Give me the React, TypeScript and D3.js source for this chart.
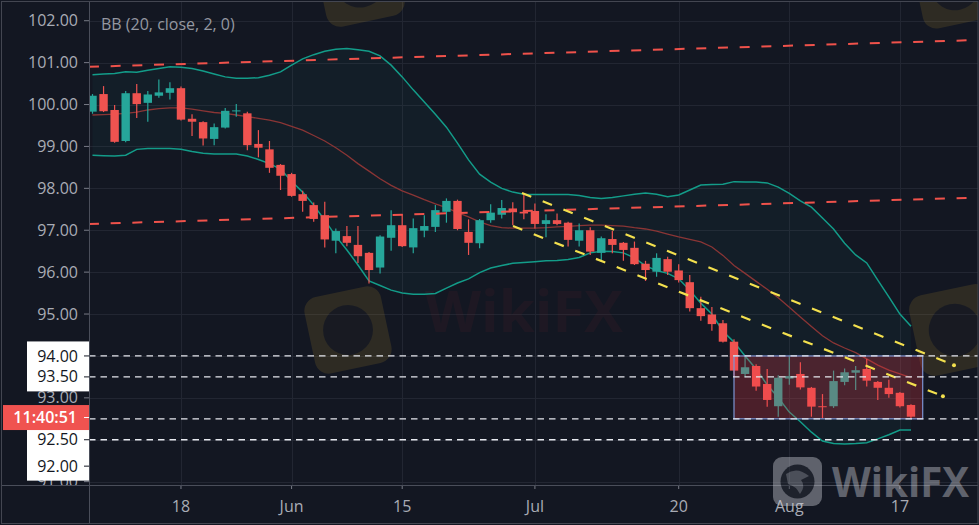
import * as d3 from 'd3';

const WIDTH = 979;
const HEIGHT = 525;
const LEFT = 89;
const RIGHT = 978;
const TOP = 2;
const BOTTOM = 485;

// trading days, 2020
const dates = [
  '05-06', '05-07', '05-08', '05-11', '05-12', '05-13', '05-14', '05-15',
  '05-18', '05-19', '05-20', '05-21', '05-22', '05-25', '05-26', '05-27', '05-28', '05-29',
  '06-01', '06-02', '06-03', '06-04', '06-05', '06-08', '06-09', '06-10', '06-11', '06-12',
  '06-15', '06-16', '06-17', '06-18', '06-19', '06-22', '06-23', '06-24', '06-25', '06-26', '06-29', '06-30',
  '07-01', '07-02', '07-03', '07-06', '07-07', '07-08', '07-09', '07-10', '07-13', '07-14', '07-15', '07-16', '07-17',
  '07-20', '07-21', '07-22', '07-23', '07-24', '07-27', '07-28', '07-29', '07-30', '07-31',
  '08-03', '08-04', '08-05', '08-06', '08-07', '08-10', '08-11', '08-12', '08-13', '08-14', '08-17', '08-18',
];

const opens = [
  99.83, 100.25, 99.87, 99.13, 100.27, 100.04, 100.21, 100.28, 100.39, 99.66,
  99.58, 99.18, 99.45, 99.84, 99.79, 99.06, 98.93, 98.56, 98.34, 97.86,
  97.6, 97.36, 96.75, 96.86, 96.65, 96.46, 96.11, 96.82, 97.12, 96.59,
  96.99, 97.08, 97.44, 97.7, 96.96, 96.69, 97.24, 97.37, 97.52, 97.44,
  97.46, 97.15, 97.24, 97.18, 96.75, 97.0, 96.46, 96.79, 96.7, 96.58,
  96.2, 96.01, 96.31, 96.04, 95.76, 95.14, 94.99, 94.78, 94.34, 93.57,
  93.76, 93.33, 92.8, 93.46, 93.57, 93.24, 92.8, 92.8, 93.38, 93.6,
  93.69, 93.38, 93.24, 93.12, 92.83,
];
const highs = [
  100.25, 100.44, 99.99, 100.32, 100.49, 100.32, 100.6, 100.53, 100.43, 99.77,
  99.6, 99.55, 99.92, 100.01, 99.83, 99.39, 99.13, 98.58, 98.37, 97.94,
  97.66, 97.68, 97.04, 97.1, 97.1, 96.48, 96.88, 97.48, 97.39, 97.28,
  97.36, 97.6, 97.76, 97.73, 97.26, 97.27, 97.62, 97.72, 97.67, 97.88,
  97.64, 97.38, 97.4, 97.2, 97.16, 97.07, 96.85, 96.99, 96.72, 96.73,
  96.27, 96.45, 96.37, 96.19, 95.93, 95.41, 95.17, 94.86, 94.4, 94.0,
  93.8, 93.69, 93.54, 94.01, 93.85, 93.26, 93.09, 93.65, 93.7, 93.76,
  93.93, 93.4, 93.43, 93.14, 92.85,
];
const lows = [
  99.78, 99.82, 99.09, 99.1, 99.68, 99.59, 100.16, 100.12, 99.62, 99.25,
  99.02, 99.03, 99.43, 99.71, 98.91, 98.74, 98.37, 97.96, 97.8, 97.44,
  97.2, 96.59, 96.45, 96.62, 96.22, 95.73, 95.97, 96.51, 96.6, 96.45,
  96.83, 96.96, 97.18, 97.0, 96.41, 96.57, 97.18, 97.28, 97.12, 97.26,
  97.04, 96.83, 97.12, 96.61, 96.61, 96.41, 96.29, 96.45, 96.27, 96.17,
  95.79, 95.89, 95.93, 95.75, 95.06, 94.84, 94.6, 94.32, 93.5, 93.49,
  93.17, 92.79, 92.55, 93.31, 93.2, 92.55, 92.51, 92.76, 93.3, 93.19,
  93.27, 92.95, 93.0, 92.77, 92.5,
];
const closes = [
  100.21, 99.84, 99.11, 100.27, 100.01, 100.24, 100.29, 100.39, 99.64, 99.59,
  99.19, 99.46, 99.85, 99.86, 99.03, 98.97, 98.49, 98.3, 97.82, 97.7,
  97.27, 96.78, 96.98, 96.7, 96.38, 96.05, 96.85, 97.12, 96.62, 97.05,
  97.1, 97.48, 97.7, 97.03, 96.7, 97.24, 97.42, 97.53, 97.43, 97.4,
  97.15, 97.24, 97.15, 96.77, 97.0, 96.49, 96.81, 96.65, 96.53, 96.19,
  96.05, 96.34, 96.01, 95.81, 95.14, 94.95, 94.76, 94.34, 93.65, 93.73,
  93.27, 92.95, 93.48, 93.52, 93.25, 92.79, 92.78, 93.4, 93.61, 93.66,
  93.41, 93.24, 93.09, 92.8, 92.55,
];

// BB (20, close, 2, 0)
const bbUpper = [
  100.71, 100.73, 100.74, 100.78, 100.77, 100.82, 100.86, 100.9, 100.89, 100.86,
  100.8, 100.73, 100.66, 100.63, 100.63, 100.64, 100.7, 100.78, 100.94, 101.09,
  101.19, 101.27, 101.32, 101.34, 101.31, 101.27, 101.16, 100.94, 100.66, 100.35,
  100.06, 99.77, 99.46, 99.08, 98.68, 98.34, 98.15, 98.0, 97.91, 97.86,
  97.85, 97.85, 97.85, 97.85, 97.83, 97.78, 97.76, 97.78, 97.82, 97.86,
  97.89, 97.86, 97.8, 97.84, 97.96, 98.08, 98.09, 98.1, 98.16, 98.15,
  98.15, 98.13, 98.03, 97.88, 97.7, 97.55, 97.29, 97.03, 96.69, 96.41,
  96.22, 95.81, 95.41, 95.0, 94.71,
];
const bbBasis = [
  99.75, 99.76, 99.77, 99.79, 99.82, 99.87, 99.9, 99.92, 99.92, 99.89,
  99.85, 99.81, 99.79, 99.75, 99.71, 99.67, 99.63, 99.57, 99.48, 99.39,
  99.26, 99.13, 98.97, 98.79, 98.59, 98.41, 98.23, 98.07, 97.94, 97.84,
  97.73, 97.63, 97.54, 97.42, 97.32, 97.2, 97.11, 97.06, 97.05, 97.05,
  97.05, 97.06, 97.08, 97.09, 97.11, 97.12, 97.12, 97.11, 97.1, 97.06,
  97.03, 96.98, 96.91, 96.84, 96.78, 96.72, 96.6, 96.4, 96.16, 95.97,
  95.78, 95.59, 95.39, 95.16, 94.93, 94.7, 94.48, 94.31, 94.19, 94.08,
  93.93, 93.78, 93.66, 93.57, 93.48,
];
const bbLower = [
  98.79, 98.78, 98.77, 98.79, 98.93, 98.95, 98.95, 98.95, 98.93, 98.88,
  98.84, 98.82, 98.82, 98.82, 98.77, 98.69, 98.59, 98.46, 98.17, 97.91,
  97.6, 97.24, 96.86, 96.53, 96.17, 95.79, 95.68, 95.57, 95.5, 95.47,
  95.47, 95.49, 95.62, 95.74, 95.84, 95.99, 96.1, 96.16, 96.21, 96.23,
  96.25, 96.27, 96.28, 96.3, 96.35, 96.46, 96.5, 96.49, 96.46, 96.34,
  96.15, 96.04, 95.97, 95.84, 95.57, 95.26, 95.0, 94.59, 94.33, 94.0,
  93.69, 93.31, 93.0, 92.66, 92.43, 92.18, 91.97, 91.91, 91.9, 91.91,
  91.93, 92.02, 92.12, 92.23, 92.23,
];

const priceTicks = [91, 92, 93, 94, 95, 96, 97, 98, 99, 100, 101, 102];
const timeTicks: [string, string][] = [
  ['05-18', '18'], ['06-01', 'Jun'], ['06-15', '15'], ['07-01', 'Jul'],
  ['07-20', '20'], ['08-03', 'Aug'], ['08-17', '17'],
];

// drawings: [bar index, price] end points
const redTrendLines: [number, number][][] = [
  [[-0.32, 100.9], [80.06, 101.54]],
  [[-0.32, 97.15], [80.06, 97.78]],
];
const yellowTrendLines: [number, number][][] = [
  [[38.83, 97.89], [77.89, 93.78]],
  [[38.02, 97.1], [76.89, 93.04]],
];
const levelPrices = [94, 93.5, 92.5, 92];
const levelLabels: [number, string][] = [
  [94, '94.00'], [93.5, '93.50'], [92, '92.50'], [91.37, '92.00'],
];
const lastLabel: [number, string] = [92.53, '11:40:51'];
const rangeBox = { from: 58.0, to: 75.06, top: 94.0, bottom: 92.5 };

const FONT = '"Open Sans", "DejaVu Sans", sans-serif';

function Watermark({ cx, cy, size, angle }: { cx: number; cy: number; size: number; angle: number }) {
  return (
    <g transform={`translate(${cx},${cy}) rotate(${angle})`} opacity={0.13}>
      <rect x={-size / 2} y={-size / 2} width={size} height={size} rx={size * 0.18} fill="#e0b030" />
      <circle r={size * 0.32} fill="#131722" opacity={0.8} />
    </g>
  );
}

export default function App() {
  const x = d3.scaleLinear().domain([-0.316, 80.06]).range([LEFT, RIGHT]);
  const y = d3.scaleLinear().domain([90.92, 102.447]).range([BOTTOM, TOP]);

  const bandLine = d3.line<number>().x((_, i) => x(i)).y(d => y(d));
  const bandArea = d3.area<number>()
    .x((_, i) => x(i))
    .y0((_, i) => y(bbLower[i]))
    .y1(d => y(d));

  const bodyW = 8.4;
  const tickX = timeTicks.map(([d, label]) => ({ pos: x(dates.indexOf(d)), label }));

  return (
    <svg
      width={WIDTH}
      height={HEIGHT}
      style={{ position: 'absolute', left: 0, top: 0, background: '#131722' }}
      fontFamily={FONT}
    >
      <defs>
        <clipPath id="plot">
          <rect x={LEFT} y={TOP} width={RIGHT - LEFT} height={BOTTOM - TOP} />
        </clipPath>
        <clipPath id="yaxis">
          <rect x={0} y={0} width={LEFT} height={BOTTOM} />
        </clipPath>
      </defs>
      <rect width={WIDTH} height={HEIGHT} fill="#131722" />

      {/* grid */}
      <g stroke="#222632" strokeWidth={1}>
        {priceTicks.map(p => (
          <line key={p} x1={LEFT} x2={RIGHT} y1={Math.round(y(p)) + 0.5} y2={Math.round(y(p)) + 0.5} />
        ))}
        {tickX.map(t => (
          <line key={t.label} x1={Math.round(t.pos) + 0.5} x2={Math.round(t.pos) + 0.5} y1={TOP} y2={BOTTOM} />
        ))}
      </g>

      <g clipPath="url(#plot)">
        {/* faint watermarks */}
        <Watermark cx={348} cy={330} size={78} angle={-12} />
        <Watermark cx={955} cy={330} size={82} angle={-12} />
        <Watermark cx={360} cy={-18} size={80} angle={-12} />
        <Watermark cx={955} cy={-14} size={76} angle={-12} />
        <text x={425} y={332} fontSize={58} fontWeight={700} fill="#8a2a30" opacity={0.09}>WikiFX</text>

        {/* Bollinger bands */}
        <path d={bandArea(bbUpper) ?? ''} fill="#26a69a" opacity={0.055} />
        <path d={bandLine(bbBasis) ?? ''} fill="none" stroke="#8a3535" strokeWidth={1.3} />
        <path d={bandLine(bbUpper) ?? ''} fill="none" stroke="#139c89" strokeWidth={1.5} />
        <path d={bandLine(bbLower) ?? ''} fill="none" stroke="#139c89" strokeWidth={1.5} />

        {/* candles */}
        {opens.map((o, i) => {
          const c = closes[i];
          const up = c >= o;
          const color = up ? '#26a69a' : '#ef5350';
          const cx = x(i);
          const top = y(Math.max(o, c));
          const h = Math.max(1, y(Math.min(o, c)) - top);
          return (
            <g key={dates[i]}>
              <line x1={cx} x2={cx} y1={y(highs[i])} y2={y(lows[i])} stroke={color} strokeWidth={1.2} />
              <rect x={cx - bodyW / 2} y={top} width={bodyW} height={h} fill={color} />
            </g>
          );
        })}

        {/* range box */}
        <rect
          x={x(rangeBox.from)}
          y={y(rangeBox.top)}
          width={x(rangeBox.to) - x(rangeBox.from)}
          height={y(rangeBox.bottom) - y(rangeBox.top)}
          fill="rgba(242,54,69,0.25)"
          stroke="#7d93d2"
          strokeWidth={1.2}
        />

        {/* red trend lines */}
        {redTrendLines.map((ln, k) => (
          <line
            key={`r${k}`}
            x1={x(ln[0][0])} y1={y(ln[0][1])} x2={x(ln[1][0])} y2={y(ln[1][1])}
            stroke="#f0524b" strokeWidth={2} strokeDasharray="10 11.7"
          />
        ))}

        {/* yellow channel */}
        {yellowTrendLines.map((ln, k) => (
          <g key={`y${k}`}>
            <line
              x1={x(ln[0][0])} y1={y(ln[0][1])} x2={x(ln[1][0])} y2={y(ln[1][1])}
              stroke="#f3e04e" strokeWidth={2.2} strokeDasharray="10 12.3"
            />
            <circle cx={x(ln[1][0])} cy={y(ln[1][1])} r={2} fill="#f3e04e" />
          </g>
        ))}

        {/* horizontal levels */}
        {levelPrices.map(p => (
          <line
            key={p}
            x1={LEFT} x2={RIGHT} y1={y(p)} y2={y(p)}
            stroke="#e6e8ee" strokeWidth={1.3} strokeDasharray="6.5 5"
          />
        ))}
      </g>

      {/* price axis */}
      <g clipPath="url(#yaxis)">
        {priceTicks.map(p => (
          <g key={p}>
            <line x1={84} x2={LEFT} y1={y(p)} y2={y(p)} stroke="#787b86" />
            <text x={78} y={y(p)} dy="0.35em" textAnchor="end" fontSize={16} fill="#a9acb5">
              {p.toFixed(2)}
            </text>
          </g>
        ))}
      </g>
      {levelLabels.map(([p, label]) => (
        <g key={label}>
          <rect x={27} y={y(p) - 14.5} width={LEFT - 27} height={29} fill="#ffffff" />
          <line x1={84} x2={LEFT} y1={y(p)} y2={y(p)} stroke="#131722" />
          <text x={78} y={y(p)} dy="0.35em" textAnchor="end" fontSize={16} fill="#131722">
            {label}
          </text>
        </g>
      ))}
      <g>
        <rect x={3} y={y(lastLabel[0]) - 12.5} width={LEFT - 3} height={25} fill="#f05350" />
        <line x1={84} x2={LEFT} y1={y(lastLabel[0])} y2={y(lastLabel[0])} stroke="#ffffff" />
        <text x={77} y={y(lastLabel[0])} dy="0.35em" textAnchor="end" fontSize={16} fontWeight={600} fill="#ffffff">
          {lastLabel[1]}
        </text>
      </g>

      {/* time axis */}
      {tickX.map(t => (
        <g key={t.label}>
          <line x1={t.pos} x2={t.pos} y1={BOTTOM} y2={BOTTOM + 4} stroke="#787b86" />
          <text x={t.pos} y={512} textAnchor="middle" fontSize={16} fill="#a9acb5">
            {t.label}
          </text>
        </g>
      ))}

      {/* axis lines and frame */}
      <line x1={LEFT + 0.5} x2={LEFT + 0.5} y1={1} y2={HEIGHT - 1} stroke="#4a4e5a" />
      <line x1={1} x2={RIGHT} y1={BOTTOM + 0.5} y2={BOTTOM + 0.5} stroke="#4a4e5a" />
      <rect x={1.5} y={1.5} width={RIGHT - 1.5} height={HEIGHT - 3} fill="none" stroke="#434651" />

      {/* legend */}
      <text x={101} y={30} fontSize={16} fill="#9598a1">BB (20, close, 2, 0)</text>

      {/* WikiFX logo */}
      <g opacity={0.42}>
        <rect x={773} y={457} width={49} height={49} rx={9} fill="#c8cad2" />
        <circle cx={797.5} cy={481.5} r={17} fill="#131722" opacity={0.85} />
        <path d="M786,474 Q797,466 809,476 L801,480 Q806,486 800,494 Q796,486 788,484 Z" fill="#c8cad2" opacity={0.7} />
        <text x={832} y={497} fontSize={42} fontWeight={700} fill="#c8cad2" textLength={137} lengthAdjust="spacingAndGlyphs">
          WikiFX
        </text>
      </g>
    </svg>
  );
}
